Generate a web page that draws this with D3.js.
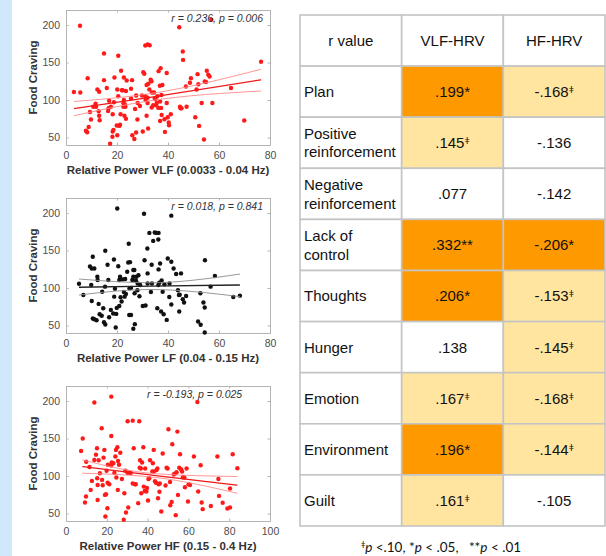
<!DOCTYPE html>
<html>
<head>
<meta charset="utf-8">
<script src="https://cdn.jsdelivr.net/npm/d3@7"></script>
<style>
  body { margin: 0; background: #fff; }
  svg { display: block; font-family: "Liberation Sans", Arial, sans-serif; }
</style>
</head>
<body>
<div class="layout"></div>
<script>

// scatter data (x = relative power %, y = food craving)
var vlfPoints = [[3.1,110.6],[5.5,199],[5.6,110],[8.5,129],[7.8,59],[8.3,57],[8.9,64],[9.4,84],[9.8,74],[10.7,91],[11.6,95],[12.3,114],[13,111],[12.8,85],[13,79],[13.2,73],[11.8,91],[14.9,162],[14.9,126.5],[16,116],[16.5,85.4],[16.7,89],[16.9,99],[17.6,91],[17.3,41.6],[18.2,51],[18.3,58],[18.6,60],[18.3,81],[19,130],[18.8,97],[20.5,159],[20.1,114],[20.5,105],[19.9,66],[20.1,53],[20.9,65.5],[21.2,67],[21.4,81],[21.6,139],[21.9,113],[22.2,113],[22.5,96],[22.5,91],[22.7,130],[22.9,79],[23.5,75],[23.8,126],[22.7,100],[23.1,94],[23.3,91],[23.5,112],[25.5,115],[25.5,102],[25.9,126.5],[26,53],[26.8,48],[27.1,88],[27.5,106],[28,74],[27.5,56.6],[28.1,96],[29,92],[29.8,106],[30.3,137],[30.7,135],[30.1,58],[31.1,172.6],[32,174],[32.8,173],[31.6,79],[31.6,120],[31.1,105],[31.2,100],[32,103],[32.2,62],[32.3,121.7],[32,96],[32.7,114],[33.2,127],[33.5,125],[33.6,90],[33.7,110],[34.2,93],[34.5,110],[34.8,102],[35.1,101],[35.3,93],[35.6,96],[35.8,105],[36.2,89.5],[36.3,138.5],[36.9,98],[36.8,119],[37.1,142.5],[37.3,89.5],[37.4,106.6],[37.5,80],[37.8,120],[36.9,72],[38.6,74.3],[38.8,57.5],[39.5,136],[39.5,96],[39.9,77],[40.3,70],[40.4,66.4],[41.1,81],[44.4,197],[44.7,91],[44.9,89],[45.3,89],[45.8,164.6],[45.9,153.5],[47,118],[47.3,91],[48.6,123],[49,129],[50.7,77],[51.2,114],[51.6,134.5],[51.9,121],[52.2,65.5],[53.2,96],[54.1,47.3],[54.4,124.8],[54.9,124],[55.2,139],[55.8,133.6],[56.3,131.4],[57,207],[57.4,96],[64.7,116],[69.9,72.6],[76.5,151]];

var lfPoints = [[5.1,105.7],[6.8,90.7],[9.9,104],[9.4,128.8],[10.1,126],[11.1,126],[10.5,141.6],[10.1,82.7],[10.5,59.3],[11.1,58.4],[12,57],[12.3,115],[12.4,110.6],[12.8,78.8],[13.2,65],[14,63],[14.2,95],[14.6,73],[14.9,54.4],[15.4,51.3],[15.4,149.6],[15.3,101.8],[16.3,131],[16.6,110.6],[16.9,61],[17.6,70.8],[18.5,66],[18.8,138],[18.9,88.5],[19.2,99],[19.5,47.3],[19.7,65.5],[19.9,73.5],[20.1,206],[20.5,129],[20.9,110.6],[20.9,76],[21.2,115],[21.4,87.6],[21.8,82],[22.2,111.5],[22.7,94.7],[23,88.5],[23.2,112],[23.5,92],[24,121.7],[24.4,134],[24.6,159],[24.8,64],[25.1,134.5],[24.9,99.6],[25.5,100],[25.5,64],[26.4,45.6],[26,110.6],[26.4,115],[26.4,124],[26.8,124],[26.9,93],[27,51.8],[27.4,110],[27.6,115],[28,97],[28.1,106],[28.4,117],[28.8,89],[29.1,104],[30.1,76],[31.2,76.6],[30.6,199],[30.8,137],[31.9,152.7],[32,119.5],[32,106],[32.7,173.5],[33.3,94.7],[33.6,131],[33.7,106],[34.2,162.8],[34.8,174],[35.5,173.5],[35.8,73],[36.2,164.6],[36.3,173.5],[36.3,124.8],[36.2,104],[36.6,107],[36.9,132.7],[37.3,68.6],[37.5,110],[37.9,95],[38.3,65],[38.6,105],[39.5,57.5],[39.9,139.4],[40.5,88],[40.6,106],[41.3,196.5],[41.3,135],[41.3,78],[42.2,126],[43.2,118.6],[43.9,97],[44.3,90.7],[44.4,68.6],[44.6,91],[45.1,119.5],[45.8,85],[46.3,80.6],[47.1,89.4],[51.8,55.4],[52.8,51],[52.7,93],[53.9,80.6],[54.4,74],[54.5,137],[54.4,40.7],[56.7,101.8],[58.4,116],[65.6,88],[68.2,89.8]];

var hfPoints = [[7.4,133.4],[8.2,150],[9.3,64.6],[9.8,72.6],[9.9,119],[11.5,112],[12.1,81.5],[12.7,93.5],[13.9,198],[13.9,121.4],[14.7,128.5],[15.2,137],[15.3,97],[15.5,88],[15.5,68],[16,121],[16.6,103.7],[17.5,163.6],[17.7,94.8],[18,87.7],[18.4,124.5],[18.8,134.8],[19.1,74.8],[19.3,46],[19.6,75.7],[19.9,107],[20.3,57],[20.4,91],[20.5,115],[21.2,89],[22.1,114],[22.2,205.8],[22.2,153.4],[22.4,118],[23.2,117],[23.7,104],[24.2,126],[24.5,134.8],[24.7,98],[25.2,138.3],[25.5,120],[25.4,81.5],[26,115],[26.6,131],[27.4,96],[28.3,41.6],[28.6,77],[29.1,107],[29.4,51.3],[30.2,173],[30.2,104],[30.5,58],[31,104.6],[31.7,104],[32.7,173.8],[32.7,90],[33.2,137],[33.8,89],[34.2,89],[35.9,173],[35.4,63.8],[36.1,111],[36.3,121],[36.7,110],[36.9,77],[37.3,118],[37.9,138.3],[38.1,85.9],[38.6,80],[38.8,110],[39.4,79.3],[39.7,84],[40.2,67.3],[40.4,96],[40.8,97],[41.2,121],[42.3,106],[42.6,117],[43,134.8],[43.1,106],[43.6,93],[44.1,91],[44.4,108],[44.8,110],[45.1,70.4],[45.4,89],[45.8,79],[46,90],[46.7,52.7],[47.4,130],[48.8,87.3],[49.3,111],[49.8,110],[50.2,162.3],[51,92],[51.1,61],[51.8,65.5],[52.1,142.3],[52.8,102],[53.3,103],[53.8,47.8],[54.2,105],[54.6,159.2],[54.9,74.8],[55.5,111],[55.9,129],[56.4,109],[56.9,106],[57.3,98.4],[58,98],[58.3,85],[59.1,110],[59.8,66],[60.1,89],[60.8,88],[62.7,126],[64.4,198.7],[64.8,79.3],[66,114.3],[66.5,64.6],[67,55.8],[71,60],[74.2,126],[74.7,96],[75,73.5],[76.8,64.3],[79.1,56.7],[80.4,83.3],[80.4,58],[81.7,129],[84,110.4]];

// fitted line and 95% CI, read at the ends and near the middle: [x, lower, fit, upper]
var vlfFit = [[3.1,79,88.5,98],[33,99,103.5,108.5],[76.5,112,127,141]];
var lfFit = [[5.1,90.7,101,112],[33,98,102.5,107],[68.2,88.5,104,118.6]];
var hfFit = [[8,103.7,112.6,121.4],[44,98,100.5,103],[84,77,87.7,99.3]];

var yTicks = [50, 100, 150, 200];
var xTicksLow = [0, 20, 40, 60, 80];
var xTicksHF = [0, 20, 40, 60, 80, 100];

// table of r values
var rowNames = ["Plan", "Positive\nreinforcement", "Negative\nreinforcement", "Lack of\ncontrol",
  "Thoughts", "Hunger", "Emotion", "Environment", "Guilt"];
var vlfR = [0.199, 0.145, 0.077, 0.332, 0.206, 0.138, 0.167, 0.196, 0.161];
var vlfSig = ["*", "t", "", "**", "*", "", "t", "*", "t"];
var hfR = [-0.168, -0.136, -0.142, -0.206, -0.153, -0.145, -0.168, -0.144, -0.105];
var hfSig = ["t", "", "", "*", "t", "t", "t", "t", ""];
var headers = ["r value", "VLF-HRV", "HF-HRV"];

var width = 606, height = 556;

var svg = d3.select("div.layout")
  .append("svg")
    .attr("width", width)
    .attr("height", height);

// light blue strip on the left edge
svg.append("rect")
  .attr("x", 0).attr("y", 0)
  .attr("width", 12).attr("height", height)
  .attr("fill", "#cfe9fb");

function drawScatter(points, fit, opts) {
  var x = d3.scaleLinear().domain(opts.xDomain).range([66, 270]);
  var y = d3.scaleLinear().domain([40, 220]).range([opts.bottom, opts.top]);

  var g = svg.append("g").attr("class", "scatter");

  g.append("rect")
    .attr("x", 66).attr("y", opts.top)
    .attr("width", 204).attr("height", opts.bottom - opts.top)
    .attr("fill", "#fff");

  // ticks pointing inward on all four sides
  var axisColor = "#b4b4b4";
  var bottomAxis = g.append("g")
    .attr("transform", "translate(0," + opts.bottom + ")")
    .call(d3.axisBottom(x).tickValues(opts.xTicks).tickSize(-2.5).tickPadding(7));
  var topAxis = g.append("g")
    .attr("transform", "translate(0," + opts.top + ")")
    .call(d3.axisTop(x).tickValues(opts.xTicks).tickSize(-2.5).tickFormat(""));
  var leftAxis = g.append("g")
    .attr("transform", "translate(66,0)")
    .call(d3.axisLeft(y).tickValues(yTicks).tickSize(-2.5).tickPadding(6));
  var rightAxis = g.append("g")
    .attr("transform", "translate(270,0)")
    .call(d3.axisRight(y).tickValues(yTicks).tickSize(-2.5).tickFormat(""));

  [bottomAxis, topAxis, leftAxis, rightAxis].forEach(function (a) {
    a.selectAll("path.domain").attr("stroke", axisColor);
    a.selectAll(".tick line").attr("stroke", axisColor);
    a.selectAll("text")
      .attr("fill", "#4d4d4d")
      .style("font-size", "10.5px")
      .style("font-family", "'Liberation Sans', Arial, sans-serif");
  });

  // points
  g.selectAll("circle")
    .data(points)
    .enter()
    .append("circle")
    .attr("cx", function (d) { return x(d[0]); })
    .attr("cy", function (d) { return y(d[1]); })
    .attr("r", 2.2)
    .attr("fill", opts.color);

  // regression line and confidence band
  var band = [[1, opts.ciColor, 0.9], [3, opts.ciColor, 0.9], [2, opts.lineColor, 1.3]];
  band.forEach(function (b) {
    var line = d3.line()
      .x(function (d) { return x(d[0]); })
      .y(function (d) { return y(d[b[0]]); })
      .curve(d3.curveMonotoneX);
    g.append("path")
      .datum(fit)
      .attr("d", line)
      .attr("fill", "none")
      .attr("stroke", b[1])
      .attr("stroke-width", b[2]);
  });

  // correlation text
  g.append("text")
    .attr("x", opts.statX)
    .attr("y", opts.top + 11.5)
    .attr("text-anchor", opts.statAnchor)
    .style("font-size", "10.5px")
    .style("font-style", "italic")
    .attr("fill", "#333")
    .text(opts.stat);

  // axis labels
  g.append("text")
    .attr("x", 168)
    .attr("y", opts.bottom + 29)
    .attr("text-anchor", "middle")
    .style("font-size", "11.5px")
    .style("font-weight", "bold")
    .attr("fill", "#333")
    .text(opts.xLabel);

  g.append("text")
    .attr("transform", "translate(37," + ((opts.top + opts.bottom) / 2) + ") rotate(-90)")
    .attr("text-anchor", "middle")
    .style("font-size", "11.5px")
    .style("font-weight", "bold")
    .attr("fill", "#333")
    .text("Food Craving");
}

drawScatter(vlfPoints, vlfFit, {
  top: 10, bottom: 145, xDomain: [0, 80], xTicks: xTicksLow,
  color: "#ff1a1a", lineColor: "#f01818", ciColor: "#ff8a8a",
  stat: "r = 0.236, p = 0.006", statX: 263, statAnchor: "end",
  xLabel: "Relative Power VLF (0.0033 - 0.04 Hz)"
});

drawScatter(lfPoints, lfFit, {
  top: 198, bottom: 333, xDomain: [0, 80], xTicks: xTicksLow,
  color: "#111", lineColor: "#222", ciColor: "#8c8c8c",
  stat: "r = 0.018, p = 0.841", statX: 263, statAnchor: "end",
  xLabel: "Relative Power LF (0.04 - 0.15 Hz)"
});

drawScatter(hfPoints, hfFit, {
  top: 386, bottom: 521, xDomain: [0, 100], xTicks: xTicksHF,
  color: "#ff1a1a", lineColor: "#f01818", ciColor: "#ff8a8a",
  stat: "r = -0.193, p = 0.025", statX: 147, statAnchor: "start",
  xLabel: "Relative Power HF (0.15 - 0.4 Hz)"
});

// ---- table ----
var rowY = d3.scaleBand()
  .domain(d3.range(rowNames.length + 1))
  .range([15, 526]);
var colX = d3.scaleBand()
  .domain([0, 1, 2])
  .range([300, 605]);

function cellFill(sig) {
  if (sig === "*" || sig === "**") return "#ff9900";
  if (sig === "t") return "#ffe59f";
  return "#fff";
}

// ".199" / "-.168" with a plain hyphen
function formatR(v) {
  return d3.format(".3f")(v).replace("\u2212", "-").replace("0.", ".");
}

var cells = [];
headers.forEach(function (h, c) {
  cells.push({ row: 0, col: c, text: h, sig: "", header: true });
});
rowNames.forEach(function (name, i) {
  cells.push({ row: i + 1, col: 0, text: name, sig: "", label: true });
  cells.push({ row: i + 1, col: 1, text: formatR(vlfR[i]), sig: vlfSig[i] });
  cells.push({ row: i + 1, col: 2, text: formatR(hfR[i]), sig: hfSig[i] });
});

var table = svg.append("g").attr("class", "table");

table.selectAll("rect")
  .data(cells)
  .enter()
  .append("rect")
  .attr("x", function (d) { return colX(d.col); })
  .attr("y", function (d) { return rowY(d.row); })
  .attr("width", colX.bandwidth())
  .attr("height", rowY.bandwidth())
  .attr("fill", function (d) { return cellFill(d.sig); })
  .attr("stroke", "#c4c4c4")
  .attr("stroke-width", 1.6);

var cellText = table.selectAll("text")
  .data(cells)
  .enter()
  .append("text")
  .attr("x", function (d) { return d.label ? colX(d.col) + 4 : colX(d.col) + colX.bandwidth() / 2; })
  .attr("y", function (d) { return rowY(d.row) + rowY.bandwidth() / 2; })
  .attr("text-anchor", function (d) { return d.label ? "start" : "middle"; })
  .style("font-size", "15px")
  .attr("fill", "#111");

cellText.each(function (d) {
  var t = d3.select(this);
  var lines = d.text.split("\n");
  if (lines.length > 1) {
    lines.forEach(function (ln, k) {
      t.append("tspan")
        .attr("x", colX(d.col) + 4)
        .attr("dy", k === 0 ? "-0.27em" : "1.25em")
        .text(ln);
    });
    return;
  }
  t.attr("dy", "0.36em");
  t.append("tspan").text(d.text + (d.sig === "*" || d.sig === "**" ? d.sig : ""));
  if (d.sig === "t") {
    t.append("tspan")
      .attr("dy", "-0.45em")
      .style("font-size", "9px")
      .text("ǂ");
  }
});

// footnote
var note = svg.append("text")
  .attr("x", 441)
  .attr("y", 550)
  .attr("text-anchor", "middle")
  .attr("xml:space", "preserve")
  .style("font-family", "Lato, 'Open Sans', sans-serif")
  .style("font-size", "13.5px")
  .attr("fill", "#111");

note.append("tspan").attr("dy", "-0.4em").style("font-size", "8px").text("ǂ");
note.append("tspan").attr("dy", "0.4em").style("font-style", "italic").text("p");
note.append("tspan").text(" <.10, *");
note.append("tspan").style("font-style", "italic").text("p");
note.append("tspan").text(" < .05,   **");
note.append("tspan").style("font-style", "italic").text("p");
note.append("tspan").text(" < .01");

</script>
</body>
</html>
